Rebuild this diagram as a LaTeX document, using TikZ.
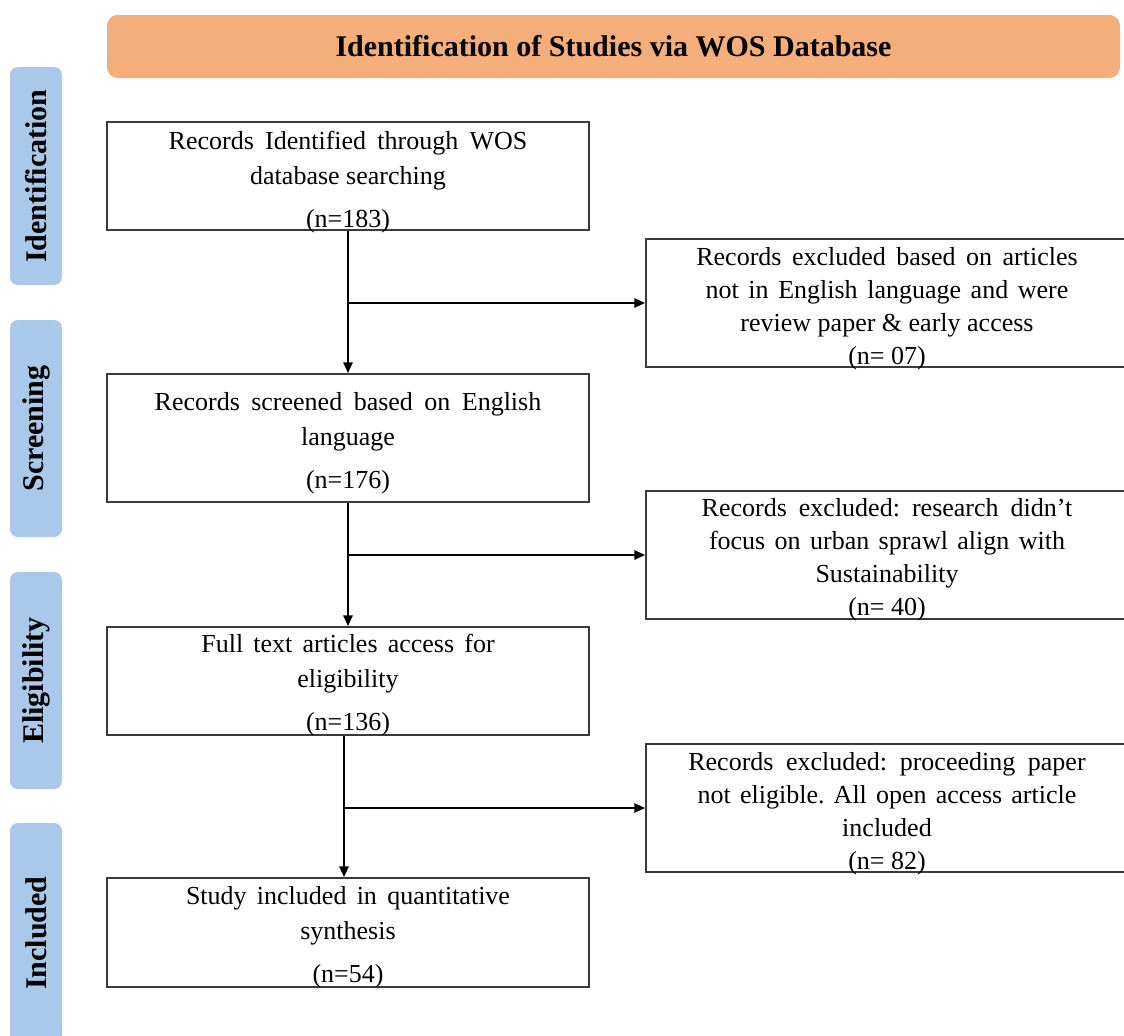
\documentclass[tikz,border=0pt]{standalone}
\usepackage{fontspec}
\setmainfont{Liberation Serif}
\usetikzlibrary{arrows.meta,calc}
\definecolor{bannerorange}{HTML}{F3AE7C}
\definecolor{phaseblue}{HTML}{A9C8EA}
\definecolor{boxgray}{HTML}{3A3A3A}
\newcommand{\jl}[2]{\makebox[#1][s]{#2}}
\frenchspacing
\begin{document}
\begin{tikzpicture}[x=0.75pt,y=-0.75pt,
  banner/.style={fill=bannerorange, rounded corners=8pt, inner sep=0pt,
    minimum width=759.75pt, minimum height=47.25pt,
    font=\bfseries\fontsize{22.5}{27}\selectfont},
  phase/.style={fill=phaseblue, rounded corners=6pt, inner sep=0pt, rotate=90,
    minimum height=39pt, font=\bfseries\fontsize{22.5}{27}\selectfont},
  flowbox/.style={draw=boxgray, line width=1.4pt, inner sep=0pt, minimum width=361.5pt},
  maintext/.style={align=center, inner sep=0pt, anchor=north,
    font=\fontsize{19.5}{26.25}\selectfont},
  extext/.style={align=center, inner sep=0pt, anchor=north,
    font=\fontsize{19.5}{24.75}\selectfont},
  conn/.style={draw=black, line width=1.2pt, -{Triangle[length=8pt,width=7pt]}}]
\useasboundingbox (0,0) rectangle (1124,1035);
\fill[white] (0,0) rectangle (1124,1035);

% banner
\node[banner] (title) at (613.5,46.5) {Identification of Studies via WOS Database};

% phase bars
\node[phase, minimum width=163.5pt] (pid) at (36,176) {Identification};
\node[phase, minimum width=162.75pt] (psc) at (36,428.5) {Screening};
\node[phase, minimum width=162.75pt] (pel) at (36,680.5) {Eligibility};
\node[phase, minimum width=165pt] (pin) at (36,933) {Included};

% main boxes
\node[flowbox, minimum height=81pt] (b1) at (348,176) {};
\node[flowbox, minimum height=96pt] (b2) at (348,438) {};
\node[flowbox, minimum height=81pt] (b3) at (348,681) {};
\node[flowbox, minimum height=81.75pt] (b4) at (348,932.5) {};

% exclusion boxes
\node[flowbox, minimum height=96pt] (e1) at (887,303) {};
\node[flowbox, minimum height=96pt] (e2) at (887,555) {};
\node[flowbox, minimum height=96pt] (e3) at (887,808) {};

% texts
\node[maintext] (t1) at ($(b1.north)+(0,10)$)
  {\jl{269pt}{Records Identified through WOS}\\ database searching\\[6pt] (n=183)};
\node[maintext] (t2) at ($(b2.north)+(0,19)$)
  {\jl{290pt}{Records screened based on English}\\ language\\[6pt] (n=176)};
\node[maintext] (t3) at ($(b3.north)+(0,8)$)
  {\jl{220pt}{Full text articles access for}\\ eligibility\\[6pt] (n=136)};
\node[maintext] (t4) at ($(b4.north)+(0,9)$)
  {\jl{243pt}{Study included in quantitative}\\ synthesis\\[6pt] (n=54)};

\node[extext] (u1) at ($(e1.north)+(0,9)$)
  {\jl{286pt}{Records excluded based on articles}\\ \jl{272pt}{not in English language and were}\\ review paper \& early access\\ (n= 07)};
\node[extext] (u2) at ($(e2.north)+(0,8)$)
  {\jl{278pt}{Records excluded: research didn’t}\\ \jl{267pt}{focus on urban sprawl align with}\\ Sustainability\\ (n= 40)};
\node[extext] (u3) at ($(e3.north)+(0,9)$)
  {\jl{298pt}{Records excluded: proceeding paper}\\ \jl{284pt}{not eligible. All open access article}\\ included\\ (n= 82)};

% connectors
\draw[conn] (b1.south) -- (b2.north);
\coordinate (j1) at (b1.south |- e1.west);
\draw[conn] (j1) -- (e1.west);

\draw[conn] (b2.south) -- (b3.north);
\coordinate (j2) at (b2.south |- e2.west);
\draw[conn] (j2) -- (e2.west);

\coordinate (s3) at ($(b3.south)+(-4,0)$);
\coordinate (n4) at ($(b4.north)+(-4,0)$);
\draw[conn] (s3) -- (n4);
\coordinate (j3) at (s3 |- e3.west);
\draw[conn] (j3) -- (e3.west);
\end{tikzpicture}
\end{document}
